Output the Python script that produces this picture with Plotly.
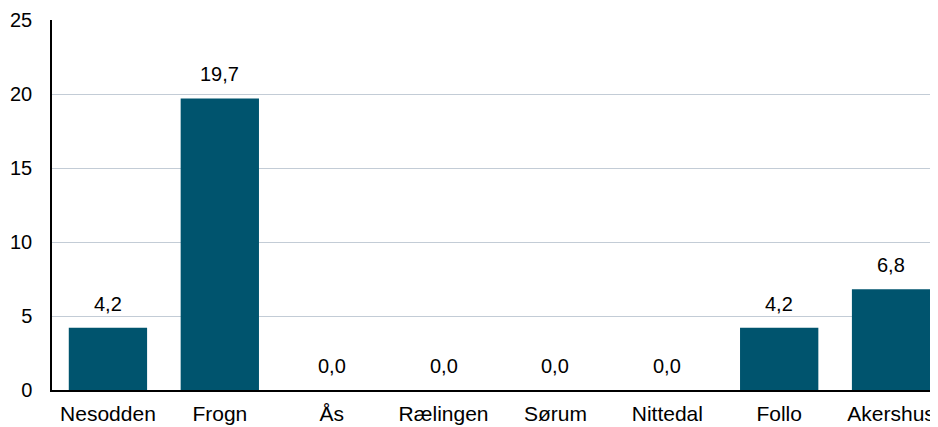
import plotly.graph_objects as go

categories = ["Nesodden", "Frogn", "Ås", "Rælingen", "Sørum", "Nittedal", "Follo", "Akershus"]
values = [4.2, 19.7, 0.0, 0.0, 0.0, 0.0, 4.2, 6.8]
labels = [f"{v:.1f}".replace(".", ",") for v in values]
yticks = [0, 5, 10, 15, 20, 25]

fig = go.Figure(go.Bar(
    x=categories, y=values,
    marker=dict(color="#00546e", line=dict(width=0)),
    width=0.7,
))
for c, v, t in zip(categories, values, labels):
    fig.add_annotation(x=c, y=v, text=t, showarrow=False, yanchor="bottom",
                       yshift=11, font=dict(size=20, color="#000000"))

# page body has an 8px margin; compensate so the plot lands where the reference has it
fig.update_layout(
    width=939, height=419,
    margin=dict(l=44, r=0, t=12, b=37),
    paper_bgcolor="white", plot_bgcolor="white",
    font=dict(family="Liberation Sans, Arial, sans-serif", size=20, color="#000000"),
    showlegend=False,
)
fig.update_xaxes(showline=True, linecolor="#000000", linewidth=2, ticks="",
                 tickfont=dict(size=21), ticklabelstandoff=4)
fig.update_yaxes(range=[0, 25], tickvals=yticks, showgrid=True, gridcolor="#c3ccd6", gridwidth=1,
                 showline=True, linecolor="#000000", linewidth=1.5, zeroline=False,
                 ticks="", ticklabelstandoff=14, tickfont=dict(size=20))
fig.write_html("out.html")
